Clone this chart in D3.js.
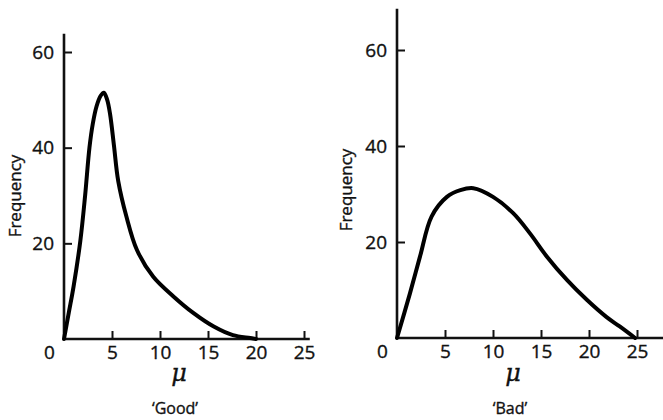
<!DOCTYPE html>
<html>
<head>
<meta charset="utf-8">
<script src="https://cdn.jsdelivr.net/npm/d3@7"></script>
<style>
  body { margin: 0; background: #fff; }
  svg { display: block; }
  text { font-family: "Open Sans", Lato, sans-serif; fill: #111; stroke: #111; stroke-width: 0.35px; }
</style>
</head>
<body>
<div id="chart"></div>
<script>
// values
var goodMu   = [0, 0.5, 1, 1.7, 2.2, 2.65, 3.0, 3.4, 3.8, 4.15, 4.5, 4.8, 5.2, 5.65, 6.5, 7.6, 9.3, 11.4, 13.5, 15.6, 17.6, 19.4, 20];
var goodFreq = [0, 5.5, 11, 20.5, 30, 40, 45, 48.7, 50.8, 51.5, 50, 47, 40.5, 33, 25.6, 18.6, 13, 8.9, 5.4, 2.6, 0.8, 0.2, 0];

var badMu   = [0, 1.35, 2.4, 3.6, 5.2, 6.6, 7.95, 10, 12.1, 13.85, 15.6, 17.7, 19.8, 21.8, 23.2, 24.8];
var badFreq = [0, 9.3, 17, 25.3, 29.4, 30.8, 31.2, 29.4, 26, 21.8, 17, 12.1, 7.9, 4.4, 2.4, 0];

var xTicks = [0, 5, 10, 15, 20, 25];
var yTicks = [20, 40, 60];
var panelNames = ["\u2018Good\u2019", "\u2018Bad\u2019"];

var svg = d3.select("#chart")
    .append("svg")
    .attr("width", 663)
    .attr("height", 420);

// layout of each panel (pixels) and how far the axis lines run
var panels = [
    {mu: goodMu, freq: goodFreq, name: panelNames[0],
     xr: [64, 304], yr: [339, 52], yTop: 63.8, xEnd: 25.6,
     freqX: 21, freqY: 196, muX: 179, nameX: 175},
    {mu: badMu, freq: badFreq, name: panelNames[1],
     xr: [397, 637], yr: [338, 50], yTop: 68.6, xEnd: 27.8,
     freqX: 352, freqY: 190, muX: 513, nameX: 510}
];

panels.forEach(function(p) {
    var x = d3.scaleLinear().domain([0, 25]).range(p.xr);
    var y = d3.scaleLinear().domain([0, 60]).range(p.yr);
    var g = svg.append("g");

    // y axis, ticks pointing into the plot
    var ya = g.append("g")
        .attr("transform", "translate(" + x(0) + ",0)")
        .call(d3.axisLeft(y)
            .tickValues(yTicks)
            .tickSize(-8)
            .tickPadding(10));
    ya.select(".domain").remove();
    ya.selectAll("line").attr("stroke", "#111").attr("stroke-width", 2);
    ya.selectAll("text")
        .style("font-size", "19px")
        .style("font-family", "'Open Sans', sans-serif");

    g.append("line")
        .attr("x1", x(0)).attr("x2", x(0))
        .attr("y1", y(0)).attr("y2", y(p.yTop))
        .attr("stroke", "#111").attr("stroke-width", 2.6);

    // x axis, ticks pointing up
    var xa = g.append("g")
        .attr("transform", "translate(0," + y(0) + ")")
        .call(d3.axisBottom(x)
            .tickValues(xTicks)
            .tickSize(-8)
            .tickPadding(7));
    xa.select(".domain").remove();
    xa.selectAll("line").attr("stroke", "#111").attr("stroke-width", 2);
    xa.selectAll(".tick").filter(function(d) { return d === 0; }).select("line").remove();
    xa.selectAll("text")
        .style("font-size", "19px")
        .style("font-family", "'Open Sans', sans-serif")
        .attr("dx", function(d) { return d === 0 ? -15 : 0; });

    g.append("line")
        .attr("x1", x(0)).attr("x2", x(p.xEnd))
        .attr("y1", y(0)).attr("y2", y(0))
        .attr("stroke", "#111").attr("stroke-width", 2.6);

    // the curve
    var pts = p.mu.map(function(m, i) { return [m, p.freq[i]]; });
    var line = d3.line()
        .x(function(d) { return x(d[0]); })
        .y(function(d) { return y(d[1]); })
        .curve(d3.curveCatmullRom.alpha(0.5));
    g.append("path")
        .datum(pts)
        .attr("d", line)
        .attr("fill", "none")
        .attr("stroke", "#000")
        .attr("stroke-width", 4)
        .attr("stroke-linejoin", "round")
        .attr("stroke-linecap", "round");

    // labels
    g.append("text")
        .attr("transform", "translate(" + p.freqX + "," + p.freqY + ") rotate(-90)")
        .attr("text-anchor", "middle")
        .style("font-size", "17px")
        .text("Frequency");

    g.append("text")
        .attr("x", p.muX)
        .attr("y", 381)
        .attr("text-anchor", "middle")
        .style("font-family", "'DejaVu Serif', serif")
        .style("font-style", "italic")
        .style("font-size", "24px")
        .text("\u03bc");

    g.append("text")
        .attr("x", p.nameX)
        .attr("y", 414)
        .attr("text-anchor", "middle")
        .style("font-size", "16px")
        .text(p.name);
});
</script>
</body>
</html>
